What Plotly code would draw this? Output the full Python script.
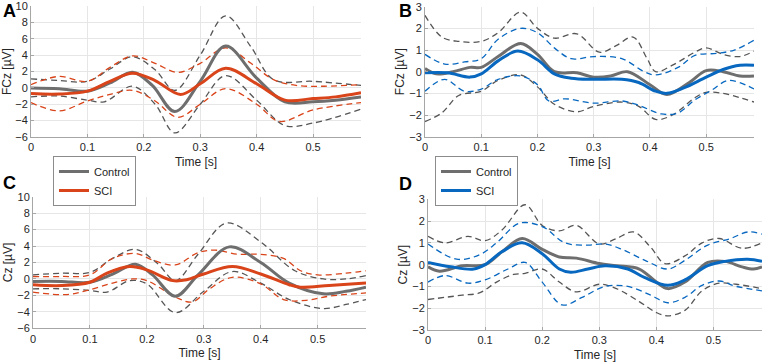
import plotly.graph_objects as go

# ---------------- Panel A (FCz, SCI orange) ----------------
a_ctrl_t = [0, 0.05, 0.1, 0.14, 0.18, 0.215, 0.255, 0.3, 0.345, 0.4, 0.45, 0.5, 0.54, 0.585]
a_ctrl_v = [0.0, -0.1, -0.4, 0.6, 1.9, 0.3, -2.9, 0.8, 5.1, 1.2, -1.7, -1.7, -1.5, -1.1]
a_sci_t = [0, 0.05, 0.1, 0.14, 0.18, 0.22, 0.265, 0.3, 0.345, 0.4, 0.45, 0.5, 0.54, 0.585]
a_sci_v = [-0.7, -0.75, -0.4, 0.8, 1.8, 0.9, -0.8, 0.5, 2.4, 0.5, -1.5, -1.3, -1.1, -0.6]
a_ctrl_up_t = [0, 0.05, 0.1, 0.14, 0.18, 0.22, 0.255, 0.3, 0.345, 0.39, 0.43, 0.5, 0.585]
a_ctrl_up_v = [1.1, 0.9, 0.8, 2.3, 3.8, 2.2, -0.3, 4.0, 8.8, 5.0, 1.0, 0.8, 0.3]
a_ctrl_lo_t = [0, 0.05, 0.1, 0.13, 0.18, 0.22, 0.255, 0.3, 0.345, 0.4, 0.45, 0.5, 0.585]
a_ctrl_lo_v = [-1.1, -1.0, -1.5, -1.7, 0.2, -2.0, -5.5, -2.0, 1.5, -1.5, -4.6, -4.3, -2.6]
a_sci_up_t = [0, 0.05, 0.1, 0.14, 0.18, 0.22, 0.26, 0.3, 0.345, 0.39, 0.43, 0.47, 0.52, 0.585]
a_sci_up_v = [0.4, 1.4, 0.8, 2.5, 3.9, 3.0, 1.9, 3.0, 4.9, 3.0, 1.0, 0.3, 0.2, 0.4]
a_sci_lo_t = [0, 0.05, 0.1, 0.14, 0.18, 0.22, 0.26, 0.3, 0.345, 0.4, 0.44, 0.5, 0.585]
a_sci_lo_v = [-1.8, -2.8, -1.6, -0.8, -0.3, -1.6, -3.6, -2.0, -0.1, -2.0, -4.1, -2.7, -1.8]

# ---------------- Panel B (FCz, SCI blue) ----------------
b_ctrl_t = [0, 0.02, 0.05, 0.08, 0.1, 0.13, 0.17, 0.2, 0.23, 0.27, 0.3, 0.33, 0.36, 0.4, 0.43, 0.47, 0.5, 0.53, 0.56, 0.585]
b_ctrl_v = [0.15, -0.1, 0.0, 0.2, 0.2, 0.7, 1.3, 0.8, 0.0, -0.05, -0.25, -0.2, 0.0, -0.6, -1.05, -0.5, 0.05, 0.0, -0.2, -0.2]
b_sci_t = [0, 0.04, 0.08, 0.1, 0.13, 0.165, 0.2, 0.23, 0.26, 0.3, 0.35, 0.38, 0.41, 0.43, 0.46, 0.5, 0.53, 0.56, 0.585]
b_sci_v = [-0.05, -0.05, -0.25, -0.1, 0.5, 0.95, 0.55, -0.1, -0.3, -0.35, -0.35, -0.5, -0.9, -1.0, -0.75, -0.25, 0.1, 0.3, 0.3]
b_ctrl_up_t = [0, 0.03, 0.06, 0.1, 0.13, 0.17, 0.2, 0.23, 0.27, 0.31, 0.34, 0.37, 0.395, 0.41, 0.44, 0.48, 0.5, 0.53, 0.56, 0.585]
b_ctrl_up_v = [2.6, 1.6, 1.4, 1.4, 1.8, 2.75, 2.0, 1.55, 1.75, 0.9, 1.2, 1.6, 0.6, 0.0, 0.3, 0.9, 1.1, 0.8, 0.7, 0.95]
b_ctrl_lo_t = [0, 0.03, 0.06, 0.1, 0.13, 0.17, 0.2, 0.23, 0.27, 0.3, 0.35, 0.38, 0.41, 0.44, 0.48, 0.5, 0.53, 0.56, 0.585]
b_ctrl_lo_v = [-2.3, -1.9, -1.1, -0.9, -0.4, -0.15, -0.7, -1.5, -1.85, -1.6, -1.4, -1.6, -2.2, -2.0, -1.2, -0.95, -1.0, -1.2, -1.4]
b_sci_up_t = [0, 0.035, 0.07, 0.1, 0.13, 0.17, 0.2, 0.23, 0.26, 0.3, 0.35, 0.39, 0.41, 0.45, 0.48, 0.52, 0.55, 0.585]
b_sci_up_v = [0.8, 0.35, 0.45, 0.6, 1.5, 2.0, 1.8, 1.1, 0.6, 0.7, 0.6, 0.0, -0.15, 0.2, 0.75, 0.85, 1.0, 1.45]
b_sci_lo_t = [0, 0.035, 0.07, 0.1, 0.13, 0.17, 0.2, 0.22, 0.25, 0.3, 0.35, 0.38, 0.42, 0.45, 0.48, 0.51, 0.54, 0.585]
b_sci_lo_v = [-0.9, -0.35, -0.9, -0.8, -0.35, -0.2, -0.6, -1.35, -1.25, -1.45, -1.35, -1.55, -1.95, -1.9, -1.3, -0.85, -0.4, -0.8]

# ---------------- Panel C (Cz, SCI orange) ----------------
c_ctrl_t = [0, 0.05, 0.1, 0.14, 0.18, 0.21, 0.25, 0.29, 0.345, 0.4, 0.45, 0.51, 0.55, 0.585]
c_ctrl_v = [-0.3, -0.3, -0.4, 0.6, 1.8, 0.5, -2.1, 0.5, 3.9, 2.0, -0.5, -1.8, -1.5, -1.0]
c_sci_t = [0, 0.05, 0.1, 0.13, 0.17, 0.2, 0.245, 0.27, 0.3, 0.35, 0.4, 0.45, 0.47, 0.52, 0.585]
c_sci_v = [-0.7, -0.8, -0.4, 0.7, 1.5, 1.1, -0.2, -0.1, 0.6, 1.5, 0.6, -0.7, -1.0, -0.8, -0.5]
c_ctrl_up_t = [0, 0.05, 0.1, 0.14, 0.18, 0.22, 0.25, 0.29, 0.34, 0.4, 0.46, 0.51, 0.55, 0.585]
c_ctrl_up_v = [0.5, 0.7, 0.8, 2.5, 3.6, 1.8, -0.2, 3.0, 6.8, 4.5, 1.0, 0.0, 0.0, 0.4]
c_ctrl_lo_t = [0, 0.05, 0.1, 0.13, 0.17, 0.2, 0.25, 0.3, 0.35, 0.4, 0.45, 0.51, 0.55, 0.585]
c_ctrl_lo_v = [-1.2, -1.2, -1.4, -1.6, -0.2, -0.6, -4.1, -1.5, 0.9, -0.5, -2.5, -3.6, -3.1, -2.5]
c_sci_up_t = [0, 0.05, 0.1, 0.14, 0.18, 0.21, 0.25, 0.29, 0.32, 0.36, 0.4, 0.44, 0.47, 0.5, 0.55, 0.585]
c_sci_up_v = [0.3, 0.3, 0.5, 2.5, 3.1, 2.3, 1.7, 3.2, 3.5, 3.0, 3.0, 2.5, 1.0, 0.5, 0.7, 1.0]
c_sci_lo_t = [0, 0.06, 0.1, 0.14, 0.175, 0.2, 0.25, 0.28, 0.31, 0.35, 0.4, 0.44, 0.48, 0.52, 0.585]
c_sci_lo_v = [-1.6, -1.9, -1.3, -0.5, 0.0, -0.2, -2.2, -2.8, -1.2, 0.2, -0.6, -2.5, -2.6, -2.1, -1.7]

# ---------------- Panel D (Cz, SCI blue) ----------------
d_ctrl_t = [0, 0.02, 0.06, 0.1, 0.13, 0.165, 0.2, 0.23, 0.26, 0.3, 0.33, 0.37, 0.4, 0.42, 0.45, 0.49, 0.52, 0.55, 0.57, 0.585]
d_ctrl_v = [-0.1, -0.3, -0.05, 0.0, 0.6, 1.2, 0.7, 0.35, 0.3, 0.05, -0.05, -0.2, -0.8, -1.1, -0.8, 0.1, 0.15, -0.1, -0.2, -0.1]
d_sci_t = [0, 0.04, 0.08, 0.1, 0.13, 0.165, 0.2, 0.23, 0.25, 0.28, 0.31, 0.35, 0.38, 0.42, 0.45, 0.49, 0.52, 0.56, 0.585]
d_sci_v = [0.1, -0.1, -0.2, 0.0, 0.6, 1.0, 0.5, -0.2, -0.35, -0.2, -0.05, -0.2, -0.6, -0.95, -0.7, -0.05, 0.15, 0.25, 0.15]
d_ctrl_up_t = [0, 0.03, 0.07, 0.1, 0.13, 0.17, 0.2, 0.23, 0.26, 0.3, 0.33, 0.36, 0.39, 0.415, 0.45, 0.48, 0.51, 0.55, 0.585]
d_ctrl_up_v = [1.3, 1.0, 1.3, 1.1, 1.6, 2.75, 1.8, 1.55, 1.8, 0.95, 1.2, 1.5, 0.8, 0.05, 0.4, 1.0, 1.2, 0.75, 1.0]
d_ctrl_lo_t = [0, 0.03, 0.06, 0.09, 0.12, 0.15, 0.17, 0.2, 0.23, 0.26, 0.3, 0.33, 0.37, 0.4, 0.42, 0.45, 0.48, 0.51, 0.54, 0.585]
d_ctrl_lo_v = [-1.6, -1.5, -1.4, -1.3, -0.8, -0.45, -0.4, -0.2, -0.8, -1.25, -0.9, -1.1, -1.7, -2.2, -2.35, -2.1, -1.2, -0.85, -0.9, -1.1]
d_sci_up_t = [0, 0.05, 0.09, 0.12, 0.16, 0.2, 0.24, 0.28, 0.31, 0.34, 0.38, 0.42, 0.45, 0.49, 0.53, 0.56, 0.585]
d_sci_up_v = [0.95, 0.25, 0.45, 1.0, 1.9, 1.75, 1.0, 0.9, 0.95, 0.7, 0.2, -0.2, 0.2, 0.9, 1.2, 1.5, 1.4]
d_sci_lo_t = [0, 0.03, 0.07, 0.1, 0.14, 0.17, 0.2, 0.235, 0.27, 0.31, 0.35, 0.39, 0.42, 0.45, 0.48, 0.51, 0.54, 0.585]
d_sci_lo_v = [-0.8, -0.5, -0.85, -0.7, -0.2, 0.1, -0.8, -1.85, -1.5, -1.0, -1.0, -1.4, -1.75, -1.5, -0.95, -0.75, -1.0, -1.2]

x_tick_vals = [0, 0.1, 0.2, 0.3, 0.4, 0.5]
x_tick_text = ["0", "0.1", "0.2", "0.3", "0.4", "0.5"]
yA_ticks = [-6, -4, -2, 0, 2, 4, 6, 8, 10]
yB_ticks = [-3, -2, -1, 0, 1, 2, 3]

GRAY = "#6e6e6e"
GRAY_D = "#555555"
ORANGE = "#d9441a"
BLUE = "#0868c0"
FONT = "Liberation Sans, Arial, sans-serif"

fig = go.Figure()

panels = [
    ("x", "y", a_ctrl_t, a_ctrl_v, a_sci_t, a_sci_v, a_ctrl_up_t, a_ctrl_up_v, a_ctrl_lo_t, a_ctrl_lo_v,
     a_sci_up_t, a_sci_up_v, a_sci_lo_t, a_sci_lo_v, ORANGE, "legend"),
    ("x2", "y2", b_ctrl_t, b_ctrl_v, b_sci_t, b_sci_v, b_ctrl_up_t, b_ctrl_up_v, b_ctrl_lo_t, b_ctrl_lo_v,
     b_sci_up_t, b_sci_up_v, b_sci_lo_t, b_sci_lo_v, BLUE, "legend2"),
    ("x3", "y3", c_ctrl_t, c_ctrl_v, c_sci_t, c_sci_v, c_ctrl_up_t, c_ctrl_up_v, c_ctrl_lo_t, c_ctrl_lo_v,
     c_sci_up_t, c_sci_up_v, c_sci_lo_t, c_sci_lo_v, ORANGE, None),
    ("x4", "y4", d_ctrl_t, d_ctrl_v, d_sci_t, d_sci_v, d_ctrl_up_t, d_ctrl_up_v, d_ctrl_lo_t, d_ctrl_lo_v,
     d_sci_up_t, d_sci_up_v, d_sci_lo_t, d_sci_lo_v, BLUE, None),
]

for (xa, ya, ct, cv, st, sv, cut, cuv, clt, clv, sut, suv, slt, slv, scol, leg) in panels:
    for tt, vv, col in [(cut, cuv, GRAY_D), (clt, clv, GRAY_D), (sut, suv, scol), (slt, slv, scol)]:
        fig.add_trace(go.Scatter(x=tt, y=vv, xaxis=xa, yaxis=ya, mode="lines",
                                 line=dict(color=col, width=1.3, dash="6px,4px", shape="spline", smoothing=1.0),
                                 showlegend=False, hoverinfo="skip"))
    if leg:
        kw = dict(showlegend=True, legend=leg)
    else:
        kw = dict(showlegend=False)
    fig.add_trace(go.Scatter(x=ct, y=cv, xaxis=xa, yaxis=ya, mode="lines", name="Control",
                             line=dict(color=GRAY, width=3, shape="spline", smoothing=1.0), **kw))
    fig.add_trace(go.Scatter(x=st, y=sv, xaxis=xa, yaxis=ya, mode="lines", name="SCI",
                             line=dict(color=scol, width=3, shape="spline", smoothing=1.0), **kw))

W, H = 765, 362

def xd(a, b):
    return [a / W, b / W]

def yd(top, bot):
    return [1 - bot / H, 1 - top / H]

common_x = dict(range=[0, 0.585], tickvals=x_tick_vals, ticktext=x_tick_text, showgrid=True,
                gridcolor="#e6e6e6", gridwidth=1, showline=True, linecolor="#a6a6a6", linewidth=1,
                ticks="inside", ticklen=3, tickcolor="#a6a6a6", zeroline=False, automargin=False,
                ticklabeloverflow="allow",
                tickfont=dict(size=11, color="#262626", family=FONT),
                title=dict(text="Time [s]", font=dict(size=12, color="#262626", family=FONT), standoff=5))
common_y = dict(showgrid=True, gridcolor="#e6e6e6", gridwidth=1, showline=True, linecolor="#a6a6a6",
                linewidth=1, ticks="inside", ticklen=3, tickcolor="#a6a6a6", zeroline=False, automargin=False,
                ticklabeloverflow="allow",
                tickfont=dict(size=11, color="#262626", family=FONT))

fig.update_layout(
    width=W, height=H, margin=dict(l=0, r=0, t=0, b=0, autoexpand=False),
    paper_bgcolor="white", plot_bgcolor="white",
    font=dict(family=FONT, color="#262626"),
    xaxis=dict(domain=xd(31, 361), anchor="y", **common_x),
    yaxis=dict(domain=yd(6, 137), anchor="x", range=[-6, 10], tickvals=yA_ticks,
               title=dict(text="FCz [µV]", font=dict(size=12, family=FONT), standoff=2), **common_y),
    xaxis2=dict(domain=xd(425, 754), anchor="y2", **common_x),
    yaxis2=dict(domain=yd(6.7, 136.7), anchor="x2", range=[-3, 3], tickvals=yB_ticks,
                title=dict(text="FCz [µV]", font=dict(size=12, family=FONT), standoff=2), **common_y),
    xaxis3=dict(domain=xd(33, 366), anchor="y3", **common_x),
    yaxis3=dict(domain=yd(196.7, 328.3), anchor="x3", range=[-6, 10], tickvals=yA_ticks,
                title=dict(text="Cz [µV]", font=dict(size=12, family=FONT), standoff=2), **common_y),
    xaxis4=dict(domain=xd(428, 762), anchor="y4", **common_x),
    yaxis4=dict(domain=yd(199.3, 330), anchor="x4", range=[-3, 3], tickvals=yB_ticks,
                title=dict(text="Cz [µV]", font=dict(size=12, family=FONT), standoff=2), **common_y),
    legend=dict(x=53 / W, y=1 - 156 / H, xanchor="left", yanchor="top", bgcolor="white",
                bordercolor="#8c8c8c", borderwidth=1, font=dict(size=11, family=FONT, color="#262626"),
                tracegroupgap=0, itemwidth=30),
    legend2=dict(x=435 / W, y=1 - 156 / H, xanchor="left", yanchor="top", bgcolor="white",
                 bordercolor="#8c8c8c", borderwidth=1, font=dict(size=11, family=FONT, color="#262626"),
                 tracegroupgap=0, itemwidth=30),
)

labels = [("A", 1, 11), ("B", 397, 11), ("C", 1, 183), ("D", 397, 184)]
for txt, px, py in labels:
    fig.add_annotation(text="<b>%s</b>" % txt, xref="paper", yref="paper", x=px / W, y=1 - py / H,
                       xanchor="left", yanchor="middle", showarrow=False,
                       font=dict(size=18, family=FONT, color="black"))

fig.write_html("out.html", config={"displayModeBar": False},
               post_script="document.body.style.margin='0';document.body.style.overflow='hidden';")
